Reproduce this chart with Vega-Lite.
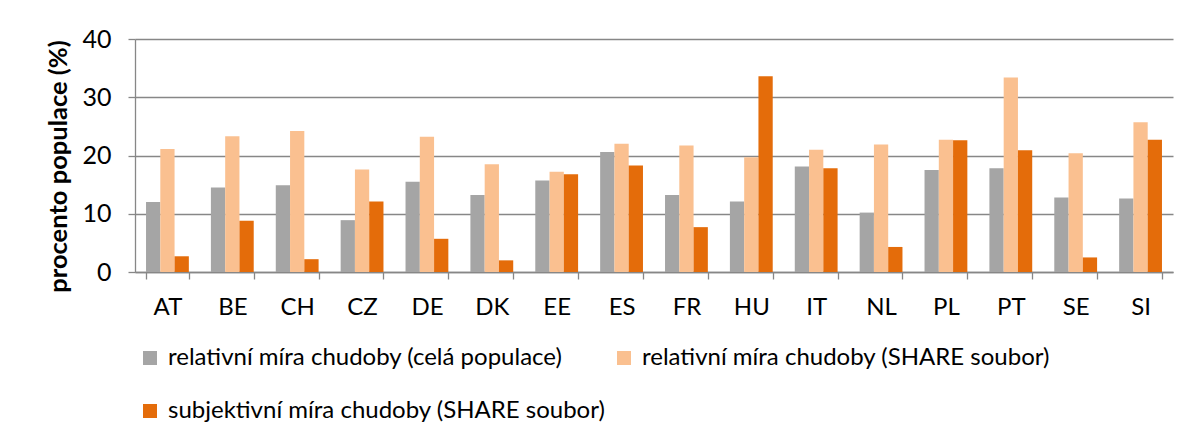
{
  "$schema": "https://vega.github.io/schema/vega-lite/v6.json",
  "width": 1038,
  "height": 233,
  "autosize": {"type": "none"},
  "padding": {"left": 135, "top": 39, "right": 19, "bottom": 169},
  "background": "white",
  "config": {
    "font": "Lato",
    "view": {"stroke": null},
    "axis": {"labelColor": "#000000", "titleColor": "#000000", "labelFont": "Lato", "titleFont": "Lato"}
  },
  "data": {
    "values": [
      {"country": "AT", "series": "relativní míra chudoby (celá populace)", "value": 12.0},
      {"country": "AT", "series": "relativní míra chudoby (SHARE soubor)", "value": 21.1},
      {"country": "AT", "series": "subjektivní míra chudoby (SHARE soubor)", "value": 2.7},
      {"country": "BE", "series": "relativní míra chudoby (celá populace)", "value": 14.5},
      {"country": "BE", "series": "relativní míra chudoby (SHARE soubor)", "value": 23.3},
      {"country": "BE", "series": "subjektivní míra chudoby (SHARE soubor)", "value": 8.8},
      {"country": "CH", "series": "relativní míra chudoby (celá populace)", "value": 14.9},
      {"country": "CH", "series": "relativní míra chudoby (SHARE soubor)", "value": 24.2},
      {"country": "CH", "series": "subjektivní míra chudoby (SHARE soubor)", "value": 2.2},
      {"country": "CZ", "series": "relativní míra chudoby (celá populace)", "value": 8.9},
      {"country": "CZ", "series": "relativní míra chudoby (SHARE soubor)", "value": 17.6},
      {"country": "CZ", "series": "subjektivní míra chudoby (SHARE soubor)", "value": 12.1},
      {"country": "DE", "series": "relativní míra chudoby (celá populace)", "value": 15.5},
      {"country": "DE", "series": "relativní míra chudoby (SHARE soubor)", "value": 23.2},
      {"country": "DE", "series": "subjektivní míra chudoby (SHARE soubor)", "value": 5.7},
      {"country": "DK", "series": "relativní míra chudoby (celá populace)", "value": 13.2},
      {"country": "DK", "series": "relativní míra chudoby (SHARE soubor)", "value": 18.5},
      {"country": "DK", "series": "subjektivní míra chudoby (SHARE soubor)", "value": 2.0},
      {"country": "EE", "series": "relativní míra chudoby (celá populace)", "value": 15.7},
      {"country": "EE", "series": "relativní míra chudoby (SHARE soubor)", "value": 17.2},
      {"country": "EE", "series": "subjektivní míra chudoby (SHARE soubor)", "value": 16.8},
      {"country": "ES", "series": "relativní míra chudoby (celá populace)", "value": 20.6},
      {"country": "ES", "series": "relativní míra chudoby (SHARE soubor)", "value": 22.0},
      {"country": "ES", "series": "subjektivní míra chudoby (SHARE soubor)", "value": 18.3},
      {"country": "FR", "series": "relativní míra chudoby (celá populace)", "value": 13.2},
      {"country": "FR", "series": "relativní míra chudoby (SHARE soubor)", "value": 21.7},
      {"country": "FR", "series": "subjektivní míra chudoby (SHARE soubor)", "value": 7.7},
      {"country": "HU", "series": "relativní míra chudoby (celá populace)", "value": 12.1},
      {"country": "HU", "series": "relativní míra chudoby (SHARE soubor)", "value": 19.7},
      {"country": "HU", "series": "subjektivní míra chudoby (SHARE soubor)", "value": 33.6},
      {"country": "IT", "series": "relativní míra chudoby (celá populace)", "value": 18.1},
      {"country": "IT", "series": "relativní míra chudoby (SHARE soubor)", "value": 21.0},
      {"country": "IT", "series": "subjektivní míra chudoby (SHARE soubor)", "value": 17.8},
      {"country": "NL", "series": "relativní míra chudoby (celá populace)", "value": 10.2},
      {"country": "NL", "series": "relativní míra chudoby (SHARE soubor)", "value": 21.9},
      {"country": "NL", "series": "subjektivní míra chudoby (SHARE soubor)", "value": 4.3},
      {"country": "PL", "series": "relativní míra chudoby (celá populace)", "value": 17.5},
      {"country": "PL", "series": "relativní míra chudoby (SHARE soubor)", "value": 22.7},
      {"country": "PL", "series": "subjektivní míra chudoby (SHARE soubor)", "value": 22.6},
      {"country": "PT", "series": "relativní míra chudoby (celá populace)", "value": 17.8},
      {"country": "PT", "series": "relativní míra chudoby (SHARE soubor)", "value": 33.4},
      {"country": "PT", "series": "subjektivní míra chudoby (SHARE soubor)", "value": 20.9},
      {"country": "SE", "series": "relativní míra chudoby (celá populace)", "value": 12.8},
      {"country": "SE", "series": "relativní míra chudoby (SHARE soubor)", "value": 20.4},
      {"country": "SE", "series": "subjektivní míra chudoby (SHARE soubor)", "value": 2.5},
      {"country": "SI", "series": "relativní míra chudoby (celá populace)", "value": 12.6},
      {"country": "SI", "series": "relativní míra chudoby (SHARE soubor)", "value": 25.7},
      {"country": "SI", "series": "subjektivní míra chudoby (SHARE soubor)", "value": 22.7}
    ]
  },
  "mark": {"type": "bar"},
  "encoding": {
    "x": {
      "field": "country",
      "type": "nominal",
      "sort": null,
      "scale": {"paddingInner": 0.34, "paddingOuter": 0.17},
      "axis": {
        "title": null,
        "labelAngle": 0,
        "labelFontSize": 24,
        "labelPadding": 16,
        "tickBand": "extent",
        "tickSize": 7,
        "tickColor": "#878787",
        "tickWidth": 1.3,
        "domainColor": "#878787",
        "domainWidth": 1.3,
        "grid": false
      }
    },
    "xOffset": {
      "field": "series",
      "type": "nominal",
      "sort": ["relativní míra chudoby (celá populace)", "relativní míra chudoby (SHARE soubor)", "subjektivní míra chudoby (SHARE soubor)"],
      "scale": {"paddingInner": 0, "paddingOuter": 0}
    },
    "y": {
      "field": "value",
      "type": "quantitative",
      "scale": {"domain": [0, 40]},
      "axis": {
        "title": "procento populace (%)",
        "titleFontSize": 25.5,
        "titleFontWeight": "bold",
        "titlePadding": 10,
        "titleY": 127,
        "titleAlign": "center",
        "values": [0, 10, 20, 30, 40],
        "labelFontSize": 25,
        "labelPadding": 17,
        "tickSize": 7,
        "tickColor": "#878787",
        "tickWidth": 1.3,
        "domainColor": "#878787",
        "domainWidth": 1.3,
        "grid": true,
        "gridColor": "#878787",
        "gridWidth": 1.3
      }
    },
    "color": {
      "field": "series",
      "type": "nominal",
      "sort": ["relativní míra chudoby (celá populace)", "relativní míra chudoby (SHARE soubor)", "subjektivní míra chudoby (SHARE soubor)"],
      "scale": {
        "domain": ["relativní míra chudoby (celá populace)", "relativní míra chudoby (SHARE soubor)", "subjektivní míra chudoby (SHARE soubor)"],
        "range": ["#A5A5A5", "#FAC090", "#E46C0A"]
      },
      "legend": {
        "title": null,
        "orient": "none",
        "legendX": 3,
        "legendY": 307,
        "columns": 2,
        "direction": "horizontal",
        "symbolType": "square",
        "symbolSize": 196,
        "symbolStrokeWidth": 0,
        "labelFontSize": 24,
        "labelFont": "Lato",
        "labelColor": "#000000",
        "labelLimit": 1000,
        "labelOffset": 6,
        "columnPadding": 6,
        "rowPadding": 29
      }
    }
  }
}
